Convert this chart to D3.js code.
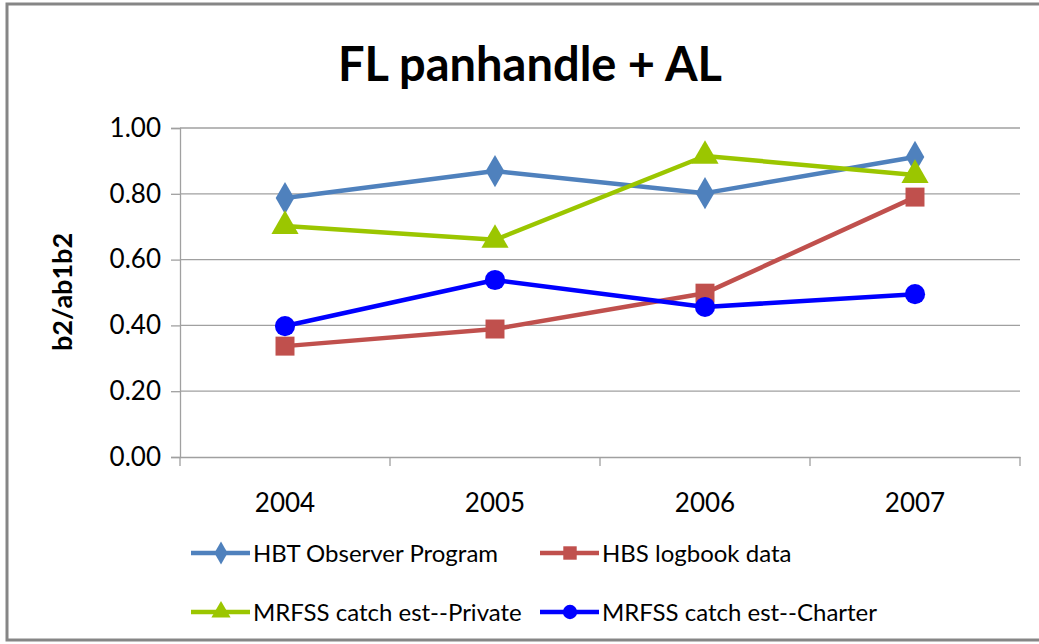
<!DOCTYPE html>
<html>
<head>
<meta charset="utf-8">
<script src="https://cdn.jsdelivr.net/npm/d3@7.9.0/dist/d3.min.js"></script>
<style>
  body { margin: 0; background: #fff; }
  text { font-family: Lato, "Open Sans", sans-serif; fill: #000; }
</style>
</head>
<body>
<script>
// data
const years = ["2004", "2005", "2006", "2007"];
const hbtObserver = [0.787, 0.869, 0.802, 0.912];
const hbsLogbook = [0.337, 0.389, 0.498, 0.790];
const mrfssPrivate = [0.702, 0.660, 0.915, 0.857];
const mrfssCharter = [0.398, 0.538, 0.456, 0.495];
const yTicks = [0, 0.2, 0.4, 0.6, 0.8, 1.0];

const series = [
  { name: "HBT Observer Program", values: hbtObserver, color: "#4f81bd", symbol: d3.symbolDiamond, size: 300 },
  { name: "HBS logbook data", values: hbsLogbook, color: "#c0504d", symbol: d3.symbolSquare, size: 360 },
  { name: "MRFSS catch est--Private", values: mrfssPrivate, color: "#9bc600", symbol: d3.symbolTriangle, size: 320 },
  { name: "MRFSS catch est--Charter", values: mrfssCharter, color: "#0000ff", symbol: d3.symbolCircle, size: 320 }
];

const W = 1039, H = 644;
const margin = { top: 128, left: 180, right: 19, bottom: 187 };
const width = W - margin.left - margin.right;
const height = H - margin.top - margin.bottom;

const svg = d3.select("body").append("svg")
  .attr("width", W)
  .attr("height", H);

// outer frame (right edge is cut off in the original)
svg.append("rect")
  .attr("x", 7).attr("y", 4)
  .attr("width", W + 20).attr("height", 636)
  .attr("fill", "none")
  .attr("stroke", "#868686")
  .attr("stroke-width", 3);

svg.append("text")
  .attr("x", 530).attr("y", 81)
  .attr("text-anchor", "middle")
  .attr("font-size", 47)
  .attr("font-weight", "bold")
  .text("FL panhandle + AL");

const g = svg.append("g")
  .attr("transform", `translate(${margin.left},${margin.top})`);

const x = d3.scaleBand().domain(years).range([0, width]);
const y = d3.scaleLinear().domain([0, 1]).range([height, 0]);

// gridlines
g.append("g")
  .selectAll("line")
  .data(yTicks.slice(1))
  .join("line")
  .attr("x1", 0).attr("x2", width)
  .attr("y1", d => y(d)).attr("y2", d => y(d))
  .attr("stroke", "#a0a0a0")
  .attr("stroke-width", 1.3);

// y axis
const yAxis = g.append("g")
  .call(d3.axisLeft(y).tickValues(yTicks).tickFormat(d3.format(".2f")).tickSize(9).tickPadding(10));
yAxis.select(".domain").attr("stroke", "#a0a0a0").attr("stroke-width", 1.3);
yAxis.selectAll(".tick line").attr("stroke", "#a0a0a0").attr("stroke-width", 1.3);
yAxis.selectAll(".tick text").attr("font-size", 26).attr("font-family", "Lato, sans-serif").attr("fill", "#000");

// x axis
const xAxis = g.append("g")
  .attr("transform", `translate(0,${height})`)
  .call(d3.axisBottom(x).tickSize(0).tickPadding(37));
xAxis.select(".domain").attr("stroke", "#a0a0a0").attr("stroke-width", 1.3);
xAxis.selectAll(".tick text").attr("font-size", 26).attr("font-family", "Lato, sans-serif").attr("fill", "#000");
// band boundary ticks
xAxis.append("g")
  .selectAll("line")
  .data(years.concat(["end"]))
  .join("line")
  .attr("x1", (d, i) => i * x.bandwidth())
  .attr("x2", (d, i) => i * x.bandwidth())
  .attr("y1", 0).attr("y2", 9)
  .attr("stroke", "#a0a0a0")
  .attr("stroke-width", 1.3);

// y label
svg.append("text")
  .attr("transform", "translate(72,292) rotate(-90)")
  .attr("text-anchor", "middle")
  .attr("font-size", 27)
  .attr("font-weight", "bold")
  .text("b2/ab1b2");

// lines and markers
const line = d3.line()
  .x((d, i) => x(years[i]) + x.bandwidth() / 2)
  .y(d => y(d));

series.forEach(s => {
  g.append("path")
    .datum(s.values)
    .attr("fill", "none")
    .attr("stroke", s.color)
    .attr("stroke-width", 4.5)
    .attr("stroke-linejoin", "round")
    .attr("d", line);

  g.selectAll(null)
    .data(s.values)
    .join("path")
    .attr("transform", (d, i) => `translate(${x(years[i]) + x.bandwidth() / 2},${y(d)})`)
    .attr("d", d3.symbol(s.symbol, s.size))
    .attr("fill", s.color);
});

// legend
const legendPos = [[191, 553], [540, 553], [191, 612], [540, 612]];
series.forEach((s, i) => {
  const lg = svg.append("g").attr("transform", `translate(${legendPos[i][0]},${legendPos[i][1]})`);
  lg.append("line")
    .attr("x1", 0).attr("x2", 59)
    .attr("y1", 0).attr("y2", 0)
    .attr("stroke", s.color)
    .attr("stroke-width", 4.5);
  lg.append("path")
    .attr("transform", "translate(30,0)")
    .attr("d", d3.symbol(s.symbol, s.size * 0.5))
    .attr("fill", s.color);
  lg.append("text")
    .attr("x", 62).attr("y", 9)
    .attr("font-size", 24)
    .text(s.name);
});
</script>
</body>
</html>
